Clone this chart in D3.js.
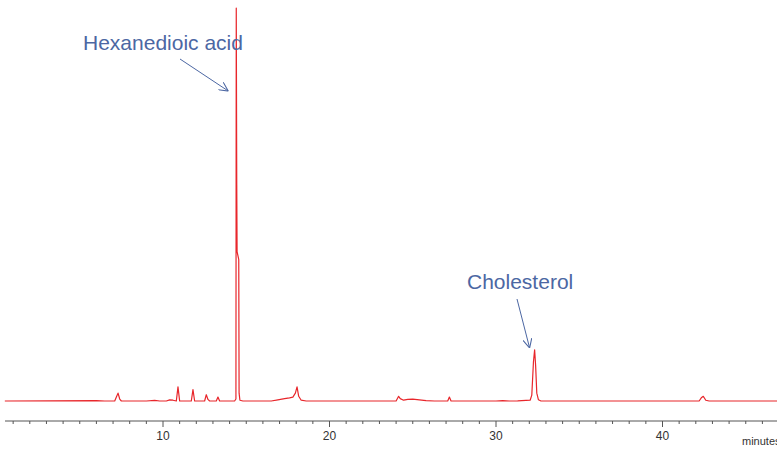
<!DOCTYPE html>
<html>
<head>
<meta charset="utf-8">
<script src="https://cdn.jsdelivr.net/npm/d3@7/dist/d3.min.js"></script>
<style>
  html, body { margin: 0; padding: 0; background: #fff; overflow: hidden; }
  svg { display: block; }
</style>
</head>
<body>
<script>
// Chromatogram trace: retention time (min) and detector response (% of largest peak)
const retentionTimes = [
  0.5, 6.0, 6.5, 7.1, 7.2, 7.3, 7.4, 7.5, 9.0, 9.5, 9.8, 10.2, 10.4, 10.6, 10.8,
  10.9, 11.0, 11.7, 11.8, 11.9, 12.5, 12.6, 12.7, 12.8, 13.2, 13.3, 13.4,
  14.3, 14.38, 14.40, 14.43, 14.45, 14.55, 14.57, 14.62, 14.8,
  16.5, 16.9, 17.3, 17.6, 17.8, 17.95, 18.05, 18.15, 18.3, 18.6,
  24.0, 24.15, 24.25, 24.45, 24.7, 25.0, 25.4, 25.8, 26.3, 27.1, 27.2, 27.3,
  30.0, 30.4, 30.8, 31.3, 32.05, 32.15, 32.25, 32.32, 32.38, 32.45, 32.55, 32.7,
  42.2, 42.35, 42.45, 42.6, 42.8, 47.0
];
const responses = [
  0, 0.1, 0, 0, 1.0, 2.0, 0.5, 0, 0, 0.15, 0, 0, 0.3, 0.2, 0,
  3.6, 0, 0, 2.9, 0, 0, 1.6, 0.4, 0, 0, 1.0, 0,
  0, 0.5, 100, 55, 38, 36, 2, 0.2, 0,
  0, 0.3, 0.6, 0.8, 1.0, 2.0, 3.6, 1.2, 0.2, 0,
  0, 1.2, 0.6, 0.2, 0.4, 0.5, 0.3, 0.1, 0, 0, 1.0, 0,
  0, 0.1, 0, 0.05, 0.2, 1.5, 10, 13, 9, 2, 0.3, 0,
  0, 0.9, 1.2, 0.2, 0, 0
];

// Labelled compounds
const compoundNames = ["Hexanedioic acid", "Cholesterol"];
const compoundTimes = [14.40, 32.32];

// Axis
const majorTicks = [10, 20, 30, 40];
const axisTitle = "minutes";

const W = 777, H = 450;
const svg = d3.select("body").append("svg").attr("width", W).attr("height", H);

const x = d3.scaleLinear().domain([0, 47]).range([-3.5, 779.05]);
const y = d3.scaleLinear().domain([0, 100]).range([401, 8]);

const trace = d3.range(retentionTimes.length).map(i => [retentionTimes[i], responses[i]]);

svg.append("path")
  .datum(trace)
  .attr("fill", "none")
  .attr("stroke", "#e8262b")
  .attr("stroke-width", 1.2)
  .attr("stroke-linejoin", "round")
  .attr("d", d3.line().x(d => x(d[0])).y(d => y(d[1])));

// Time axis with minute minor ticks
const axisY = 421;
const axisG = svg.append("g").attr("transform", `translate(0,${axisY})`);
axisG.append("line")
  .attr("x1", 5).attr("x2", W)
  .attr("stroke", "#555").attr("stroke-width", 1);

const minorTicks = d3.range(1, 47).filter(t => !majorTicks.includes(t));
axisG.selectAll(".minor").data(minorTicks).join("line")
  .attr("class", "minor")
  .attr("x1", d => x(d)).attr("x2", d => x(d))
  .attr("y1", 0).attr("y2", 3)
  .attr("stroke", "#555");

axisG.selectAll(".major").data(majorTicks).join("line")
  .attr("class", "major")
  .attr("x1", d => x(d)).attr("x2", d => x(d))
  .attr("y1", 0).attr("y2", 6)
  .attr("stroke", "#555");

axisG.selectAll(".label").data(majorTicks).join("text")
  .attr("class", "label")
  .attr("x", d => x(d)).attr("y", 19)
  .attr("text-anchor", "middle")
  .attr("font-family", "Liberation Sans, Arial, sans-serif")
  .attr("font-size", 12)
  .attr("fill", "#333")
  .text(d => d);

svg.append("text")
  .attr("x", 742).attr("y", 445)
  .attr("font-family", "Liberation Sans, Arial, sans-serif")
  .attr("font-size", 11)
  .attr("fill", "#333")
  .text(axisTitle);

// Annotations
const blue = "#4c67a3";
svg.append("defs").append("marker")
  .attr("id", "head")
  .attr("viewBox", "0 0 10 10")
  .attr("refX", 10).attr("refY", 5)
  .attr("markerWidth", 9).attr("markerHeight", 9)
  .attr("markerUnits", "userSpaceOnUse")
  .attr("orient", "auto")
  .append("path")
  .attr("d", "M0,0 L10,5 L0,10")
  .attr("fill", "none")
  .attr("stroke", blue)
  .attr("stroke-width", 1.2);

const notes = [
  { tx: 83, ty: 50, x1: 180, y1: 59, dx: -8, tipY: 91 },
  { tx: 467, ty: 289, x1: 517, y1: 299, dx: -5, tipY: 348 }
];
notes.forEach((n, i) => {
  svg.append("text")
    .attr("x", n.tx).attr("y", n.ty)
    .attr("font-family", "Liberation Sans, Arial, sans-serif")
    .attr("font-size", 21)
    .attr("fill", blue)
    .text(compoundNames[i]);
  svg.append("line")
    .attr("x1", n.x1).attr("y1", n.y1)
    .attr("x2", x(compoundTimes[i]) + n.dx).attr("y2", n.tipY)
    .attr("stroke", blue)
    .attr("stroke-width", 1)
    .attr("marker-end", "url(#head)");
});
</script>
</body>
</html>
